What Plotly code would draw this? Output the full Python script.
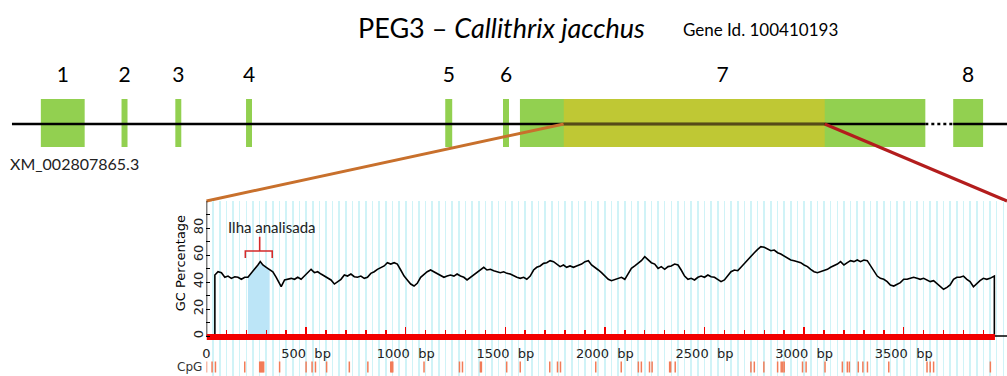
import plotly.graph_objects as go

W, H = 1007, 376

# ---------------- gene diagram (schematic, diagram units) ----------------
exon_labels = ["1", "2", "3", "4", "5", "6", "7", "8"]
exon_start = [37, 118, 172, 243, 443, 501, 518, 953]
exon_end = [81, 124, 178, 249, 450, 507, 925, 983]
cds_region = [562, 824]          # olive part of exon 7 (analysed segment)
gene_extent = [8, 1007]          # gene line from .. to
gap_region = [925, 953]          # dotted part of the gene line
transcript_id = "XM_002807865.3"

# ---------------- GC plot data (bp, % GC) ----------------
gc_bp = [42, 58, 75, 92, 108, 125, 142, 158, 175, 192, 208, 225, 242, 258, 270, 283, 300, 317, 333, 350, 367, 375,
         392, 408, 425, 442, 458, 475, 492, 508, 525, 542, 558, 575, 592, 608, 625, 642, 658, 675, 692, 708,
         725, 742, 758, 775, 792, 808, 825, 842, 858, 875, 892, 908, 925, 942, 958, 975, 992, 1008, 1025, 1042,
         1058, 1075, 1092, 1108, 1125, 1142, 1158, 1175, 1192, 1208, 1225, 1242, 1258, 1275, 1292, 1308, 1325, 1342,
         1358, 1375, 1392, 1408, 1425, 1442, 1458, 1475, 1492, 1508, 1525, 1542, 1558, 1575, 1592, 1608, 1625, 1642,
         1658, 1675, 1692, 1708, 1725, 1742, 1758, 1775, 1792, 1808, 1825, 1842, 1858,
         1883, 1900, 1917, 1933, 1950, 1967, 1983, 2000, 2017, 2033, 2050, 2067, 2083, 2100, 2117, 2133, 2150, 2167,
         2183, 2200, 2217, 2233, 2250, 2267, 2283, 2300, 2317, 2333, 2350, 2367, 2383, 2400, 2417, 2433, 2450, 2467,
         2483, 2500, 2517, 2533, 2550, 2567, 2583, 2600, 2617, 2633, 2650, 2667, 2683, 2700, 2717, 2733, 2750, 2767,
         2783, 2800, 2817, 2833, 2850, 2867, 2883, 2900, 2917, 2933, 2950, 2967, 2983, 3000, 3017, 3033, 3050, 3067,
         3083, 3100, 3117, 3133, 3150, 3167, 3183, 3200, 3217, 3233, 3250, 3267, 3283, 3300, 3317, 3333, 3350, 3367,
         3383, 3400, 3417, 3433, 3450, 3467, 3483, 3500, 3517, 3533, 3550, 3567, 3583, 3600, 3617, 3633, 3650, 3667,
         3683, 3700, 3717, 3733, 3750, 3767, 3783, 3800, 3817, 3833, 3850, 3867, 3883, 3900, 3917, 3933, 3955]
gc_pct = [45.2, 47.6, 46.9, 43.5, 44.4, 42.7, 43.9, 43.5, 42.0, 43.5, 43.5, 46.4, 49.4, 52.6, 55.1, 52.6, 50.9, 49.4,
          47.6, 43.5, 37.8, 36.5,
          41.5, 42.0, 42.7, 42.0, 43.5, 42.0, 44.4, 46.9, 49.4, 46.9, 47.6, 45.9, 44.4, 42.7, 41.5, 38.5, 40.3, 42.0,
          45.2, 44.4, 45.9, 43.9, 43.5, 44.4, 42.7, 43.5, 46.4, 47.6, 49.4, 50.9, 51.9, 54.3, 53.3, 54.3, 53.3, 48.9,
          44.4, 41.5, 38.5, 37.0, 39.0, 43.5, 45.9, 47.6, 48.9, 47.6, 46.4, 45.2, 43.5, 44.4, 45.2, 44.4, 45.9, 44.4,
          43.5, 41.5, 43.5, 45.2, 47.6, 49.4, 50.9, 48.9, 49.4, 48.4, 47.6, 46.9, 47.6, 46.4, 45.9, 44.4, 43.5, 42.7,
          43.5, 42.0, 44.4, 48.9, 50.9, 51.9, 53.8, 54.3, 55.8, 55.1, 53.3, 51.4, 52.6, 50.9, 51.9, 50.9, 51.9,
          53.3, 55.1, 55.8, 52.6, 50.9, 48.9, 46.9, 44.4, 42.0, 41.0,
          42.0, 42.7, 43.5, 42.0, 46.4, 50.1, 51.9, 53.8, 55.8, 58.8,
          56.3, 54.3, 53.3, 50.1, 51.4, 49.4, 51.4, 51.9, 53.3, 52.6,
          48.9, 44.4, 42.0, 42.7, 41.5, 43.5, 44.4, 43.5, 45.2, 43.9,
          43.5, 42.0, 40.3, 41.5, 44.4, 47.6, 48.9, 48.4, 50.9, 53.8,
          56.3, 58.8, 61.7, 64.2, 66.2, 65.7, 64.2, 63.2, 63.7, 61.7,
          60.7, 59.3, 57.5, 56.3, 55.8, 55.1, 54.3, 52.6, 51.4, 49.4,
          47.6, 46.9, 47.6, 48.9, 49.4, 50.9, 51.9, 53.3, 55.1, 52.6,
          54.3, 55.8, 55.1, 56.3, 55.1, 56.3, 55.8, 51.9, 47.6, 44.4,
          42.7, 42.0, 40.3, 37.8, 37.0, 38.5, 39.5, 42.0, 42.0, 42.7,
          43.5, 42.7, 42.0, 42.7, 41.5, 40.3, 41.0, 39.0, 36.5, 34.6,
          36.0, 37.8, 42.0, 43.5, 43.5, 44.4, 42.0, 40.3, 36.5, 39.0,
          41.0, 42.7, 42.0, 42.7, 44.4]
assert len(gc_bp) == len(gc_pct)

seq_length = 3958
island = [208, 317]   # "Ilha analisada"
cpg_sites = [0, 28, 45, 192, 267, 272, 277, 282, 287, 367, 500, 530, 547, 603, 717, 810, 925, 930, 935,
             1092, 1270, 1285, 1375, 1380, 1507, 1575, 1723, 1762, 1777, 1954, 2082, 2168, 2183, 2224, 2237,
             2325, 2330, 2353, 2733, 2750, 2798, 2867, 2885, 2893, 2900, 2992, 3010, 3105, 3192, 3217, 3227,
             3272, 3295, 3318, 3425, 3617, 3633, 3650, 3935]
x_tick_vals = [0, 500, 1000, 1500, 2000, 2500, 3000, 3500]
x_tick_text = ["0"] + [f"{v}\u00a0\u00a0bp" for v in x_tick_vals[1:]]
y_tick_vals = [0, 10, 20, 30, 40, 50, 60, 70, 80, 90]
y_tick_text = ["0", "", "20", "", "40", "", "60", "", "80", ""]

# ---------------- layout constants (pixels) ----------------
GC_LEFT_PX = 203.3
BP_PER_PX = 5.0
GC_TOP_PX = 201.0
ZERO_PX = 336.0
PX_PER_PCT = 1.35
GENE_Y = 124
EXON_TOP, EXON_BOTTOM = 99, 147


def px_to_pct(py):
    return (ZERO_PX - py) / PX_PER_PCT


x2_range = [0, (W - GC_LEFT_PX) * BP_PER_PX]
y2_range = [px_to_pct(H), px_to_pct(GC_TOP_PX)]

GREEN = "#92d050"
OLIVE = "#bfc834"
FONT = "DejaVu Sans, Verdana, sans-serif"
CAL = "Lato, 'Open Sans', sans-serif"

fig = go.Figure()

# ---- gene diagram on overlay axes (x, y) ----
centers = [(s + e) / 2 for s, e in zip(exon_start, exon_end)]
widths = [e - s for s, e in zip(exon_start, exon_end)]
fig.add_trace(go.Bar(x=centers, y=[EXON_BOTTOM - EXON_TOP] * len(centers), base=[EXON_TOP] * len(centers),
                     width=widths, marker=dict(color=GREEN, line_width=0), xaxis="x", yaxis="y",
                     hoverinfo="skip", showlegend=False))
fig.add_trace(go.Bar(x=[sum(cds_region) / 2], y=[EXON_BOTTOM - EXON_TOP], base=[EXON_TOP],
                     width=[cds_region[1] - cds_region[0]], marker=dict(color=OLIVE, line_width=0),
                     xaxis="x", yaxis="y", hoverinfo="skip", showlegend=False))
fig.add_trace(go.Scatter(x=[gene_extent[0], gap_region[0], None, gap_region[1], gene_extent[1]],
                         y=[GENE_Y, GENE_Y, None, GENE_Y, GENE_Y], mode="lines",
                         line=dict(color="black", width=2.5), xaxis="x", yaxis="y",
                         hoverinfo="skip", showlegend=False))
fig.add_trace(go.Scatter(x=gap_region, y=[GENE_Y, GENE_Y], mode="lines",
                         line=dict(color="black", width=2.5, dash="dot"), xaxis="x", yaxis="y",
                         hoverinfo="skip", showlegend=False))
fig.add_trace(go.Scatter(x=cds_region, y=[GENE_Y, GENE_Y], mode="lines",
                         line=dict(color="#574a18", width=2.5), xaxis="x", yaxis="y",
                         hoverinfo="skip", showlegend=False))
fig.add_trace(go.Scatter(x=centers, y=[77] * len(centers), mode="text", text=exon_labels,
                         textfont=dict(family=CAL, size=21, color="black"), xaxis="x", yaxis="y",
                         hoverinfo="skip", showlegend=False))
# connectors from analysed segment to GC plot corners
fig.add_trace(go.Scatter(x=[cds_region[0], GC_LEFT_PX], y=[GENE_Y, GC_TOP_PX], mode="lines",
                         line=dict(color="#c8702c", width=3), xaxis="x", yaxis="y",
                         hoverinfo="skip", showlegend=False))
fig.add_trace(go.Scatter(x=[cds_region[1], W], y=[GENE_Y, GC_TOP_PX], mode="lines",
                         line=dict(color="#b31d1d", width=3), xaxis="x", yaxis="y",
                         hoverinfo="skip", showlegend=False, cliponaxis=False))

# ---- GC plot (x2, y2) ----
isl_x = [b for b in gc_bp if island[0] <= b <= island[1]]
isl_y = [p for b, p in zip(gc_bp, gc_pct) if island[0] <= b <= island[1]]
fig.add_trace(go.Scatter(x=isl_x, y=isl_y, mode="lines", fill="tozeroy", fillcolor="#bce5f7",
                         line=dict(width=0, color="#bce5f7"), xaxis="x2", yaxis="y2",
                         hoverinfo="skip", showlegend=False))
line_x = [0, gc_bp[0]] + gc_bp + [gc_bp[-1], x2_range[1]]
line_y = [0, 0] + gc_pct + [0, 0]
fig.add_trace(go.Scatter(x=line_x, y=line_y, mode="lines", line=dict(color="black", width=1.6),
                         xaxis="x2", yaxis="y2", hoverinfo="skip", showlegend=False))
# y axis line
fig.add_trace(go.Scatter(x=[0, 0], y=[0, 100], mode="lines", line=dict(color="black", width=1.5),
                         xaxis="x2", yaxis="y2", hoverinfo="skip", showlegend=False, cliponaxis=False))
# red bar (sequence) on x4
fig.add_trace(go.Scatter(x=[0, seq_length], y=[px_to_pct(337), px_to_pct(337)], mode="lines",
                         line=dict(color="#f20000", width=6), xaxis="x4", yaxis="y2",
                         hoverinfo="skip", showlegend=False))
# CpG sites on x3
cx, cy = [], []
for s in cpg_sites:
    cx += [s, s, None]
    cy += [px_to_pct(361.5), px_to_pct(372.5), None]
fig.add_trace(go.Scatter(x=cx, y=cy, mode="lines", line=dict(color="#f27c58", width=1.5),
                         xaxis="x3", yaxis="y2", hoverinfo="skip", showlegend=False))
# bracket over the island
b_l, b_r = 195, 330
b_c = 267
fig.add_trace(go.Scatter(x=[b_l, b_l, b_c, b_c, b_c, b_r, b_r],
                         y=[57.8, 63.0, 63.0, 73.5, 63.0, 63.0, 57.8], mode="lines",
                         line=dict(color="#d42a2a", width=1.6), xaxis="x2", yaxis="y2",
                         hoverinfo="skip", showlegend=False))

annotations = [
    dict(x=353, y=27, xref="x", yref="y", xanchor="left", yanchor="middle", showarrow=False,
         text="PEG3 – <i>Callithrix jacchus</i>", font=dict(family=CAL, size=27, color="black")),
    dict(x=680, y=29, xref="x", yref="y", xanchor="left", yanchor="middle", showarrow=False,
         text="Gene Id. 100410193", font=dict(family=CAL, size=17, color="black")),
    dict(x=4, y=163, xref="x", yref="y", xanchor="left", yanchor="middle", showarrow=False,
         text=transcript_id, font=dict(family=CAL, size=16, color="#222")),
    dict(x=177, y=263, xref="x", yref="y", xanchor="center", yanchor="middle", showarrow=False,
         text="GC Percentage", textangle=-90, font=dict(family=FONT, size=13, color="black")),
    dict(x=186, y=367, xref="x", yref="y", xanchor="center", yanchor="middle", showarrow=False,
         text="CpG", font=dict(family=FONT, size=12, color="#333")),
    dict(x=(269.5 - GC_LEFT_PX) * BP_PER_PX, y=px_to_pct(227.5), xref="x2", yref="y2",
         xanchor="center", yanchor="middle", showarrow=False, text="Ilha analisada",
         font=dict(family=CAL, size=15, color="#222")),
]

minor_vals = [v for v in range(100, 4000, 100) if v % 500 != 0]

fig.update_layout(
    width=W, height=H, margin=dict(l=0, r=0, t=0, b=0), autosize=False,
    paper_bgcolor="white", plot_bgcolor="rgba(0,0,0,0)",
    barmode="overlay", hovermode=False, showlegend=False,
    font=dict(family=FONT, color="black"),
    xaxis=dict(domain=[0, 1], range=[0, W], visible=False, fixedrange=True),
    yaxis=dict(domain=[0, 1], range=[H, 0], visible=False, fixedrange=True),
    xaxis2=dict(domain=[GC_LEFT_PX / W, 1], range=x2_range, anchor="y2", showgrid=True,
                gridcolor="#d0f3f7", gridwidth=1.6, tickmode="linear", tick0=0, dtick=100 / 3,
                ticks="", showticklabels=False, zeroline=False, showline=False),
    yaxis2=dict(domain=[0, (H - GC_TOP_PX) / H], range=y2_range, anchor="x2", showgrid=False,
                zeroline=False, showline=False, tickmode="array", tickvals=y_tick_vals,
                ticktext=y_tick_text, ticks="inside", ticklen=4, tickwidth=1, tickcolor="black",
                tickangle=-90, tickfont=dict(family=FONT, size=13, color="#222")),
    xaxis3=dict(overlaying="x2", anchor="free", position=(H - 344) / H, side="bottom",
                range=x2_range, tickmode="array", tickvals=x_tick_vals, ticktext=x_tick_text,
                ticks="", showgrid=False, zeroline=False, showline=False,
                tickfont=dict(family=FONT, size=13, color="#222")),
    xaxis4=dict(overlaying="x2", anchor="free", position=(H - 334) / H, side="top",
                range=x2_range, tickmode="array", tickvals=x_tick_vals[1:], ticks="outside",
                ticklen=7, tickwidth=1.5, tickcolor="#f20000", showticklabels=False,
                showgrid=False, zeroline=False, showline=False,
                minor=dict(tickmode="array", tickvals=minor_vals, ticks="outside", ticklen=4,
                           tickwidth=1.5, tickcolor="#f20000", showgrid=False)),
    annotations=annotations,
)

fig.write_html("out.html", config={"displayModeBar": False, "staticPlot": True},
               post_script="document.body.style.margin='0';document.body.style.overflow='hidden';")
